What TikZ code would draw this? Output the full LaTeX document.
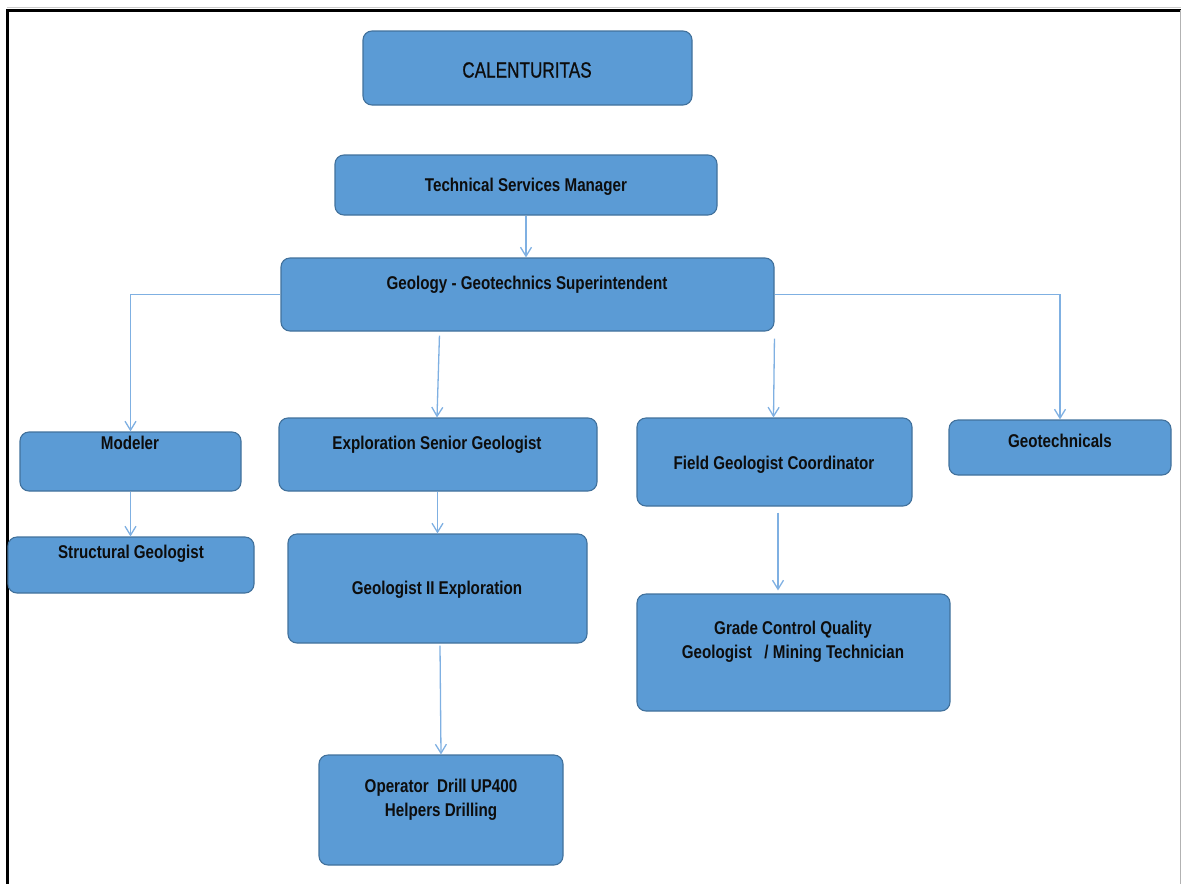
\documentclass[tikz,border=0pt]{standalone}
\usepackage{fontspec}
\setmainfont{Liberation Sans}[FakeStretch=0.82]
\newfontfamily\calfont{Liberation Sans}[FakeStretch=0.78, FakeBold=0.7]
\usetikzlibrary{arrows.meta,calc}
\definecolor{boxfill}{HTML}{5B9BD5}
\definecolor{boxline}{HTML}{41719C}
\definecolor{connc}{HTML}{7FB0E2}
\tikzset{
  box/.style={draw=boxline, fill=boxfill, line width=1.1pt, rounded corners=9pt, inner sep=0pt},
  conn/.style={draw=connc, line width=1.3pt, -{Straight Barb[length=9pt,width=11pt,line width=1.3pt]}},
  lbl/.style={font=\fontsize{18.5}{24}\selectfont\bfseries, text=black!95, align=center, inner sep=0pt},
  title/.style={font=\calfont\fontsize{22}{24}\selectfont, text=black!95, align=center, inner sep=0pt}
}
\begin{document}
\begin{tikzpicture}[x=1pt,y=-1pt]
\useasboundingbox (0,0) rectangle (1181,884);
% frame
\draw[gray!40, line width=1pt] (7,7.5) -- (1181,7.5);
\draw[black, line width=3pt] (7,10.5) -- (1181,10.5);
\draw[black, line width=2.5pt] (7.5,9) -- (7.5,884);
\draw[gray!60, line width=1pt] (1180,10) -- (1180,884);
% boxes
\node[box, minimum width=329pt, minimum height=74pt] (cal) at (527.5,68) {};
\node[box, minimum width=382pt, minimum height=60pt] (tsm) at (526,185) {};
\node[box, minimum width=493pt, minimum height=73pt] (geo) at (527.5,294.5) {};
\node[box, minimum width=221pt, minimum height=59pt] (mod) at (130.5,461.5) {};
\node[box, minimum width=246pt, minimum height=56pt] (str) at (131,565) {};
\node[box, minimum width=318pt, minimum height=73pt] (exp) at (438,454.5) {};
\node[box, minimum width=299pt, minimum height=109pt] (gii) at (437.5,588.5) {};
\node[box, minimum width=244pt, minimum height=110pt] (ope) at (441,810) {};
\node[box, minimum width=275pt, minimum height=88pt] (fld) at (774.5,462) {};
\node[box, minimum width=313pt, minimum height=117pt] (grd) at (793.5,652.5) {};
\node[box, minimum width=222pt, minimum height=55pt] (gtc) at (1060,447.5) {};
% texts
\node[title] (calT) at (527,70) {CALENTURITAS};
\node[lbl] (tsmT) at (526,187) {Technical Services Manager};
\node[lbl] (geoT) at (527,285) {Geology - Geotechnics Superintendent};
\node[lbl] (modT) at (130,443) {Modeler};
\node[lbl] (strT) at (131,554) {Structural Geologist};
\node[lbl] (expT) at (437,445) {Exploration Senior Geologist};
\node[lbl] (fldT) at (774,465) {Field Geologist Coordinator};
\node[lbl] (gtcT) at (1060,441) {Geotechnicals};
\node[lbl] (giiT) at (437,590) {Geologist II Exploration};
\node[lbl] (grdT) at (793,642) {Grade Control Quality\\Geologist \ \ / Mining Technician};
\node[lbl] (opeT) at (441,800) {Operator \ Drill UP400\\Helpers Drilling};
% connectors
\draw[conn] (tsm.south) -- (tsm.south |- geo.north);
\draw[conn] (geo.west) -| (mod.north);
\draw[conn] (geo.east) -| (gtc.north);
\draw[conn] ($(geo.south west)+(159,4)$) -- ($(exp.north)+(-1,0)$);
\draw[conn] ($(geo.south west)+(494,7)$) -- ($(fld.north)+(-1,0)$);
\draw[conn] (mod.south) -- (mod.south |- str.north);
\draw[conn] (exp.south -| gii.north) -- (gii.north);
\draw[conn] ($(gii.south)+(2.5,2)$) -- (ope.north);
\draw[conn] ($(fld.south)+(3.5,6)$) -- ($(fld.south |- grd.north)+(3.5,-3)$);
\end{tikzpicture}
\end{document}
